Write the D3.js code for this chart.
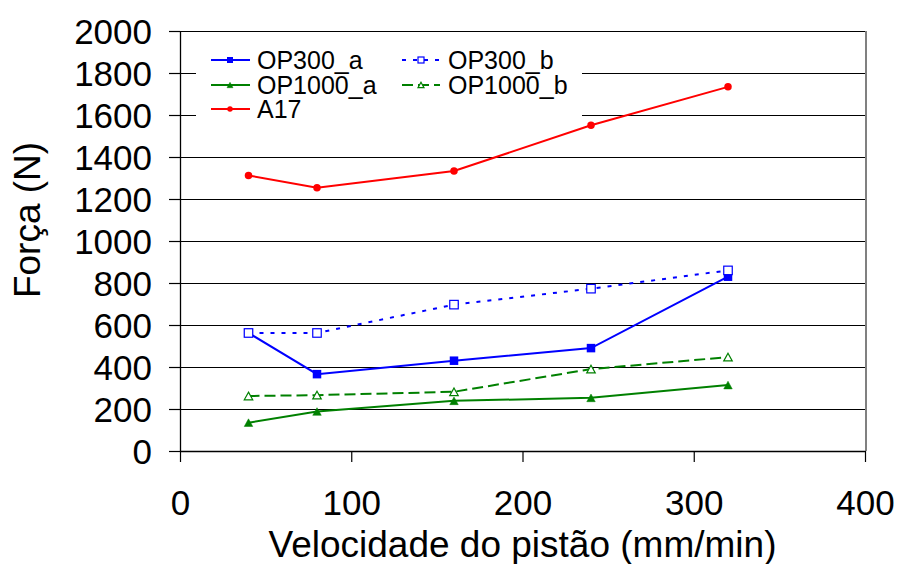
<!DOCTYPE html>
<html>
<head>
<meta charset="utf-8">
<script src="https://cdn.jsdelivr.net/npm/d3@7"></script>
<style>
  html, body { margin: 0; padding: 0; background: #fff; }
  svg { display: block; font-family: "Liberation Sans", Arial, sans-serif; }
</style>
</head>
<body>
<svg id="chart" width="899" height="564"></svg>
<script>
// Piston speed (mm/min) and measured force (N) per material
const speeds = [40, 80, 160, 240, 320];
const op300a = [562, 366, 430, 490, 830];
const op300b = [562, 562, 697, 773, 860];
const op1000a = [135, 188, 239, 253, 314];
const op1000b = [262, 266, 282, 390, 447];
const a17 = [1312, 1254, 1333, 1551, 1734];

const xTicks = [0, 100, 200, 300, 400];
const yTicks = [0, 200, 400, 600, 800, 1000, 1200, 1400, 1600, 1800, 2000];

const seriesNames = ["OP300_a", "OP300_b", "OP1000_a", "OP1000_b", "A17"];

const series = [
  { name: seriesNames[0], values: op300a, color: "#0000ff", dash: null, marker: "square", filled: true },
  { name: seriesNames[1], values: op300b, color: "#0000ff", dash: "4,7", marker: "square", filled: false },
  { name: seriesNames[2], values: op1000a, color: "#008000", dash: null, marker: "triangle", filled: true },
  { name: seriesNames[3], values: op1000b, color: "#008000", dash: "11,5", marker: "triangle", filled: false },
  { name: seriesNames[4], values: a17, color: "#ff0000", dash: null, marker: "circle", filled: true }
];

const svg = d3.select("#chart");
const plotLeft = 180, plotRight = 865, plotTop = 31, plotBottom = 451;

const x = d3.scaleLinear().domain([0, 400]).range([plotLeft, plotRight]);
const y = d3.scaleLinear().domain([0, 2000]).range([plotBottom, plotTop]);

// horizontal gridlines
svg.append("g")
  .attr("shape-rendering", "crispEdges")
  .selectAll("line")
  .data(yTicks.filter(d => d > 0))
  .join("line")
  .attr("x1", plotLeft).attr("x2", plotRight)
  .attr("y1", d => Math.round(y(d)) + 0.5).attr("y2", d => Math.round(y(d)) + 0.5)
  .attr("stroke", "#000").attr("stroke-width", 1);

// right edge of the plot area
svg.append("line")
  .attr("shape-rendering", "crispEdges")
  .attr("x1", plotRight + 0.5).attr("x2", plotRight + 0.5)
  .attr("y1", plotTop).attr("y2", plotBottom)
  .attr("stroke", "#808080").attr("stroke-width", 2);

// axes
const fmt = d3.format("d");
const yAxis = svg.append("g")
  .attr("transform", `translate(${plotLeft},0)`)
  .call(d3.axisLeft(y).tickValues(yTicks).tickFormat(fmt).tickSize(11).tickPadding(17).tickSizeOuter(0));
const xAxis = svg.append("g")
  .attr("transform", `translate(0,${plotBottom})`)
  .call(d3.axisBottom(x).tickValues(xTicks).tickFormat(fmt).tickSize(11).tickPadding(28).tickSizeOuter(0));

[yAxis, xAxis].forEach(g => {
  g.select(".domain").attr("stroke", "#000").attr("stroke-width", 1.3);
  g.selectAll(".tick line").attr("stroke", "#000").attr("stroke-width", 1.2);
  g.selectAll(".tick text")
    .attr("fill", "#000")
    .style("font-family", "'Liberation Sans', Arial, sans-serif")
    .style("font-size", "35px");
});
yAxis.selectAll(".tick text").attr("dy", "0.36em");

// axis titles
svg.append("text")
  .attr("x", x(200)).attr("y", 557)
  .attr("text-anchor", "middle")
  .style("font-size", "37px")
  .text("Velocidade do pistão (mm/min)");

svg.append("text")
  .attr("transform", `translate(40,220) rotate(-90)`)
  .attr("text-anchor", "middle")
  .style("font-size", "37px")
  .text("Força (N)");

// marker drawing helper
function drawMarker(g, type, cx, cy, size, color, filled) {
  const fill = filled ? color : "#fff";
  if (type === "square") {
    g.append("rect")
      .attr("x", cx - size / 2).attr("y", cy - size / 2)
      .attr("width", size).attr("height", size)
      .attr("fill", fill).attr("stroke", color).attr("stroke-width", filled ? 0 : 1.2);
  } else if (type === "triangle") {
    const h = size * 0.9;
    g.append("path")
      .attr("d", `M${cx},${cy - h / 2}L${cx + size / 2},${cy + h / 2}L${cx - size / 2},${cy + h / 2}Z`)
      .attr("fill", fill).attr("stroke", color).attr("stroke-width", filled ? 0.5 : 1.2);
  } else {
    g.append("circle")
      .attr("cx", cx).attr("cy", cy).attr("r", size / 2)
      .attr("fill", fill);
  }
}

// series lines and markers
const line = d3.line().x((d, i) => x(speeds[i])).y(d => y(d));
series.forEach(s => {
  const g = svg.append("g");
  g.append("path")
    .attr("d", line(s.values))
    .attr("fill", "none")
    .attr("stroke", s.color)
    .attr("stroke-width", 2)
    .attr("stroke-dasharray", s.dash);
  s.values.forEach((v, i) => {
    drawMarker(g, s.marker, x(speeds[i]), y(v), s.marker === "circle" ? 7.5 : 8.5, s.color, s.filled);
  });
});

// legend
const legend = svg.append("g");
legend.append("rect")
  .attr("x", 196).attr("y", 38).attr("width", 386).attr("height", 84)
  .attr("fill", "#fff");

const legendPos = [
  { col: 0, row: 0 }, { col: 1, row: 0 },
  { col: 0, row: 1 }, { col: 1, row: 1 },
  { col: 0, row: 2 }
];
const colX = [{ x1: 211, x2: 250, m: 230, t: 257 }, { x1: 402, x2: 440, m: 421, t: 448 }];
const rowY = [60, 85, 109];

series.forEach((s, i) => {
  const p = legendPos[i];
  const c = colX[p.col];
  const ly = rowY[p.row];
  const g = legend.append("g");
  g.append("line")
    .attr("x1", c.x1).attr("x2", c.x2)
    .attr("y1", ly).attr("y2", ly)
    .attr("stroke", s.color).attr("stroke-width", 2)
    .attr("stroke-dasharray", s.dash);
  drawMarker(g, s.marker, c.m, ly, s.marker === "circle" ? 5.5 : 6, s.color, s.filled);
  g.append("text")
    .attr("x", c.t).attr("y", ly + 8.5)
    .style("font-size", "25px")
    .attr("fill", "#000")
    .text(s.name);
});
</script>
</body>
</html>
